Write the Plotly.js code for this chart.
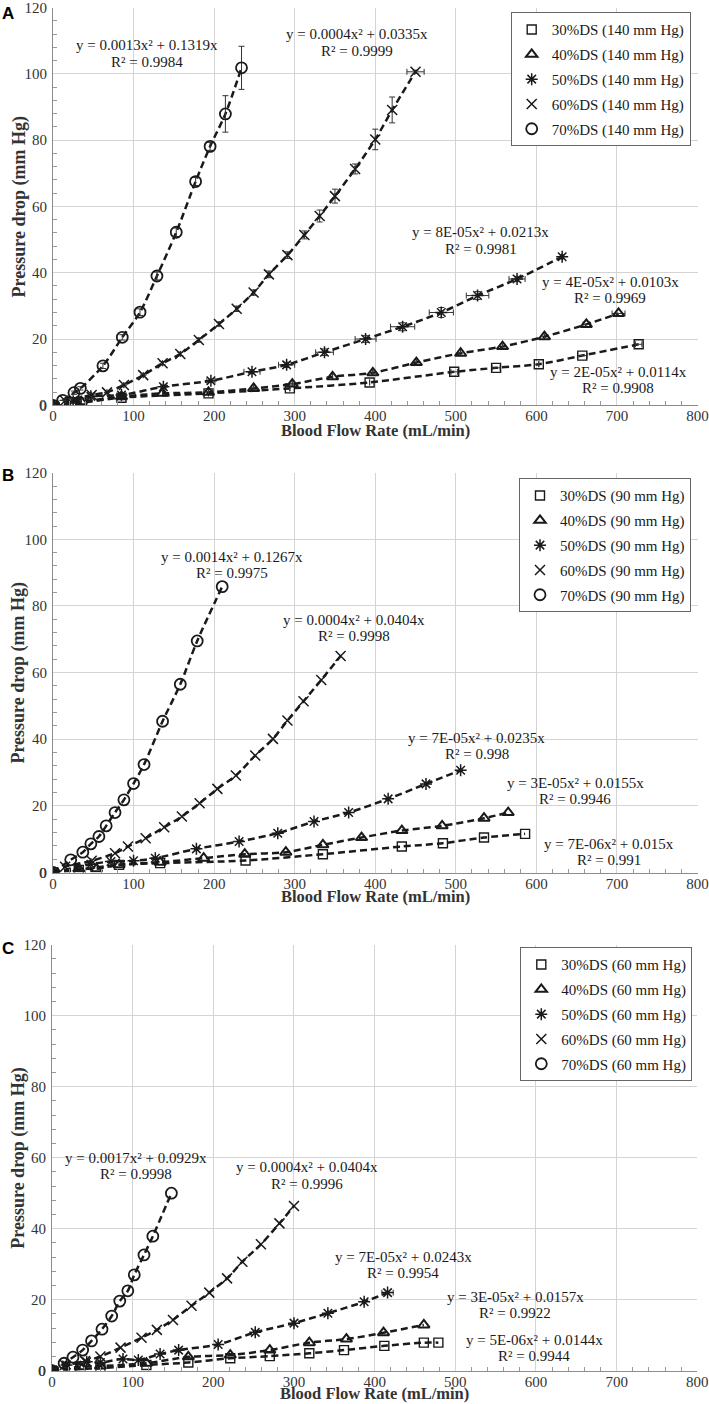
<!DOCTYPE html>
<html><head><meta charset="utf-8">
<script src="https://cdn.plot.ly/plotly-3.0.1.min.js"></script>
<style>html,body{margin:0;padding:0;background:#fff}#chart{width:709px;height:1404px}</style>
</head><body><div id="chart"></div>
<script>
// ---------- categories / labels ----------
const stenosis = ['30%DS','40%DS','50%DS','60%DS','70%DS'];
const pressures = ['140 mm Hg','90 mm Hg','60 mm Hg'];
const panelLetters = ['A','B','C'];
const xTitle = 'Blood Flow Rate (mL/min)';
const yTitle = 'Pressure drop (mm Hg)';

// ---------- Panel A (140 mm Hg) ----------
const a30x = [0, 35, 85, 193, 294, 393, 498, 550, 603, 657, 727];
const a30y = [0, 0.8, 2.3, 3.6, 5.1, 6.9, 10.1, 11.3, 12.4, 15.0, 18.4];
const a30ex = [0, 0, 0, 0, 0, 0, 4, 5, 0, 6, 4];
const a40x = [0, 35, 85, 136, 193, 249, 297, 347, 397, 451, 506, 558, 610, 662, 702];
const a40y = [0, 1.1, 2.6, 3.6, 3.9, 5.1, 6.4, 8.6, 9.8, 12.9, 15.7, 17.7, 20.7, 24.4, 27.7];
const a40ex = [0, 0, 0, 0, 0, 0, 0, 0, 0, 0, 0, 0, 0, 4, 8];
const a50x = [0, 25, 47, 85, 137, 196, 247, 290, 337, 388, 434, 482, 527, 576, 632];
const a50y = [0, 1.2, 2.7, 3.1, 5.6, 7.4, 10.1, 12.2, 16.0, 20.0, 23.7, 28.0, 33.1, 38.1, 44.8];
const a50ex = [0, 0, 0, 0, 3, 5, 10, 10, 11, 13, 15, 15, 14, 10, 0];
const a50ey = [0, 0, 0, 0, 0.5, 0.5, 0.6, 0.8, 1.0, 1.0, 1.2, 1.5, 1.2, 0.8, 0.6];
const a60x = [0, 15, 48, 67, 88, 112, 136, 158, 181, 206, 228, 249, 268, 291, 312, 331, 350, 375, 400, 421, 450];
const a60y = [0, 1.4, 3.1, 3.9, 6.1, 9.1, 12.7, 15.5, 19.7, 24.5, 29.1, 34.0, 39.5, 45.3, 51.4, 57.1, 63.1, 71.3, 80.2, 89.1, 100.6];
const a60ey = [0, 0, 0, 0, 0, 0, 0.5, 0.5, 0.6, 0.6, 0.8, 0.8, 1.0, 1.0, 1.2, 1.8, 2.1, 1.5, 3.1, 3.9, 0.5];
const a60ex = [0, 0, 0, 0, 0, 0, 0, 0, 0, 0, 0, 0, 0, 0, 0, 0, 0, 0, 0, 0, 10.7];
const a70x = [0, 12, 26, 34, 62, 86, 108, 129, 153, 177, 195, 214, 234];
const a70y = [0, 1.5, 3.8, 5.1, 11.9, 20.5, 28.1, 39.0, 52.2, 67.5, 78.1, 87.9, 101.8];
const a70ey = [0, 0, 0.5, 0.5, 0.8, 0.8, 1.0, 1.2, 1.3, 1.2, 1.2, 5.5, 6.5];
const aEq = ['y = 0.0013x² + 0.1319x', 'y = 0.0004x² + 0.0335x', 'y = 8E-05x² + 0.0213x', 'y = 4E-05x² + 0.0103x', 'y = 2E-05x² + 0.0114x'];
const aR2 = ['R² = 0.9984', 'R² = 0.9999', 'R² = 0.9981', 'R² = 0.9969', 'R² = 0.9908'];

// ---------- Panel B (90 mm Hg) ----------
const b30x = [0, 32, 82, 133, 239, 335, 433, 484, 535, 586];
const b30y = [0, 0.8, 2.3, 2.8, 3.6, 5.5, 7.8, 8.8, 10.5, 11.6];
const b40x = [0, 32, 54, 82, 133, 187, 238, 289, 335, 383, 433, 483, 535, 565];
const b40y = [0, 1.1, 1.1, 2.3, 3.1, 4.3, 5.5, 6.1, 8.3, 10.5, 12.6, 14.0, 16.3, 18.0];
const b50x = [0, 47, 72, 100, 127, 178, 231, 279, 324, 367, 416, 463, 506];
const b50y = [0, 2.5, 3.3, 3.5, 4.3, 7.1, 9.3, 11.8, 15.3, 18.0, 22.1, 26.6, 30.7];
const b60x = [0, 15, 48, 77, 93, 115, 138, 160, 182, 204, 227, 251, 273, 291, 311, 333, 357];
const b60y = [0, 1.7, 3.5, 5.8, 7.8, 10.3, 13.6, 16.8, 20.8, 25.1, 29.1, 35.1, 40.1, 45.6, 51.4, 57.8, 65.0];
const b70x = [0, 22, 37, 47, 57, 66, 77, 88, 100, 113, 136, 158, 179, 210];
const b70y = [0, 3.8, 6.1, 8.6, 10.8, 14.0, 18.0, 21.8, 26.7, 32.4, 45.4, 56.5, 69.5, 85.8];
const bEq = ['y = 0.0014x² + 0.1267x', 'y = 0.0004x² + 0.0404x', 'y = 7E-05x² + 0.0235x', 'y = 3E-05x² + 0.0155x', 'y = 7E-06x² + 0.015x'];
const bR2 = ['R² = 0.9975', 'R² = 0.9998', 'R² = 0.998', 'R² = 0.9946', 'R² = 0.991'];

// ---------- Panel C (60 mm Hg) ----------
const c30x = [0, 35, 60, 117, 169, 221, 270, 319, 362, 412, 461, 479];
const c30y = [0, 0.5, 0.7, 1.6, 2.3, 3.5, 4.1, 4.9, 5.8, 7.0, 7.9, 7.9];
const c40x = [0, 35, 60, 117, 169, 221, 270, 319, 365, 411, 461];
const c40y = [0, 1.1, 1.3, 2.1, 3.9, 4.4, 5.8, 7.9, 8.9, 10.7, 12.9];
const c50x = [0, 18, 43, 60, 88, 107, 134, 157, 206, 252, 300, 342, 387, 416];
const c50y = [0, 1.6, 2.5, 2.3, 3.3, 3.0, 4.7, 5.8, 7.4, 10.8, 13.4, 16.2, 19.4, 22.0];
const c50ex = [0, 0, 0, 0, 0, 0, 0, 0, 0, 0, 0, 0, 0, 7];
const c60x = [0, 16, 41, 60, 85, 111, 130, 150, 173, 195, 217, 236, 259, 282, 300];
const c60y = [0, 1.6, 2.7, 4.0, 6.5, 9.3, 11.5, 14.3, 18.3, 22.0, 26.0, 30.7, 35.6, 41.5, 46.4];
const c70x = [0, 15, 26, 38, 49, 62, 74, 84, 94, 102, 114, 125, 148];
const c70y = [0, 2.1, 3.8, 5.8, 8.4, 11.7, 15.4, 19.6, 22.5, 27.0, 32.6, 37.9, 50.0];
const cEq = ['y = 0.0017x² + 0.0929x', 'y = 0.0004x² + 0.0404x', 'y = 7E-05x² + 0.0243x', 'y = 3E-05x² + 0.0157x', 'y = 5E-06x² + 0.0144x'];
const cR2 = ['R² = 0.9998', 'R² = 0.9996', 'R² = 0.9954', 'R² = 0.9922', 'R² = 0.9944'];

// ---------- build ----------
const W = 709, H = 1404;
const PX = v => v / W, PY = v => 1 - v / H;
const SERIF = '"Liberation Serif", "Times New Roman", Times, serif';
const SANS = '"Liberation Sans", Arial, sans-serif';
const INK = '#1a1a1a';

const panels = [
  { xs:[a30x,a40x,a50x,a60x,a70x], ys:[a30y,a40y,a50y,a60y,a70y],
    ex:[a30ex,a40ex,a50ex,a60ex,null], ey:[null,null,a50ey,a60ey,a70ey],
    eq:aEq, r2:aR2,
    lab:[[146.7,45,62],[356.7,34,51],[481,232.5,249],[610,281.7,298],[618,371.7,387.5]],
    xd:[53,697.5], yd:[7.5,405.3], leg:[690.7,12.3], letterY:13, xTitleY:430 },
  { xs:[b30x,b40x,b50x,b60x,b70x], ys:[b30y,b40y,b50y,b60y,b70y],
    ex:[null,null,null,null,null], ey:[null,null,null,null,null],
    eq:bEq, r2:bR2,
    lab:[[231.7,556.7,573.3],[354,620,636],[476.7,738.3,754.3],[575.3,783.3,799.3],[608.7,844,860]],
    xd:[53,697.5], yd:[472.7,872.5], leg:[691,478.3], letterY:475, xTitleY:896 },
  { xs:[c30x,c40x,c50x,c60x,c70x], ys:[c30y,c40y,c50y,c60y,c70y],
    ex:[null,null,c50ex,null,null], ey:[null,null,null,null,null],
    eq:cEq, r2:cR2,
    lab:[[135.8,1158.3,1173.5],[307,1167.3,1184],[403,1256.7,1273.3],[515,1297.3,1313.3],[534,1340,1356]],
    xd:[52,697.3], yd:[944.7,1370.7], leg:[692.3,947.3], letterY:948, xTitleY:1393.5 }
];

const symbols = ['square-open','triangle-up-open','asterisk-open','x-thin-open','circle-open'];
const msizes = [9,10,10,10,11];
const mwidths = [1.4,2,1.5,1.5,1.8];

const traces = [];
const layout = {
  width: W, height: H, margin:{l:0,r:0,t:0,b:0},
  paper_bgcolor:'#fff', plot_bgcolor:'#fff',
  showlegend:true, annotations:[], font:{family:SERIF, color:INK}
};

panels.forEach((p, pi) => {
  const n = pi === 0 ? '' : String(pi + 1);
  const xa = 'x' + n, ya = 'y' + n;
  const legKey = pi === 0 ? 'legend' : 'legend' + (pi + 1);

  layout['xaxis' + n] = {
    domain:[PX(p.xd[0]), PX(p.xd[1])], anchor:ya, range:[0,800], dtick:100, tick0:0,
    showgrid:true, gridcolor:'#d4d4d4', gridwidth:1, zeroline:false,
    showline:true, linecolor:'#8c8c8c', linewidth:1, ticks:'',
    minor:{dtick:20, ticks:'inside', ticklen:4, tickcolor:'#999', showgrid:false},
    tickfont:{family:SERIF, size:15, color:'#333'}, ticklabelstandoff:-3, ticklabeloverflow:'allow', fixedrange:true
  };
  layout['yaxis' + n] = {
    domain:[PY(p.yd[1]), PY(p.yd[0])], anchor:xa, range:[0,120], dtick:20, tick0:0,
    showgrid:true, gridcolor:'#d4d4d4', gridwidth:1, zeroline:false,
    showline:true, linecolor:'#8c8c8c', linewidth:1, ticks:'',
    minor:{dtick:4, ticks:'inside', ticklen:4, tickcolor:'#999', showgrid:false},
    tickfont:{family:SERIF, size:15, color:'#333'}, ticklabelstandoff:2, ticklabeloverflow:'allow', fixedrange:true
  };
  layout[legKey] = {
    x:PX(p.leg[0]), y:PY(p.leg[1]), xanchor:'right', yanchor:'top',
    bgcolor:'#fff', bordercolor:'#666', borderwidth:1,
    font:{family:SERIF, size:15, color:INK}, tracegroupgap:2.3, itemwidth:30
  };

  for (let s = 0; s < 5; s++) {
    traces.push({
      type:'scatter', mode:'lines', x:p.xs[s], y:p.ys[s], xaxis:xa, yaxis:ya,
      line:{color:INK, width:2.5, dash:'7px,4px', shape:'spline', smoothing:0.8},
      showlegend:false, hoverinfo:'skip'
    });
  }
  for (let s = 0; s < 5; s++) {
    const t = {
      type:'scatter', mode:'markers', x:p.xs[s], y:p.ys[s], xaxis:xa, yaxis:ya,
      name: stenosis[s] + ' (' + pressures[pi] + ')',
      legend: legKey, legendgroup: 'g' + pi + s,
      marker:{symbol:symbols[s], size:msizes[s], color:INK, line:{color:INK, width:mwidths[s]}}
    };
    if (p.ey[s]) t.error_y = {type:'data', array:p.ey[s], visible:true, color:'#333', thickness:1, width:3};
    if (p.ex[s]) t.error_x = {type:'data', array:p.ex[s], visible:true, color:'#333', thickness:1, width:3};
    traces.push(t);
  }

  p.lab.forEach((g, k) => {
    layout.annotations.push({xref:'paper', yref:'paper', x:PX(g[0]), y:PY(g[1]), xanchor:'center', yanchor:'middle',
      text:p.eq[k], showarrow:false, font:{family:SERIF, size:15, color:INK}});
    layout.annotations.push({xref:'paper', yref:'paper', x:PX(g[0]), y:PY(g[2]), xanchor:'center', yanchor:'middle',
      text:p.r2[k], showarrow:false, font:{family:SERIF, size:15, color:INK}});
  });

  // y-axis "0" label at the origin (as in the reference)
  layout.annotations.push({xref:'paper', yref:'paper', x:PX(p.xd[0] - 4), y:PY(p.yd[1]), xanchor:'right', yanchor:'middle',
    text:'0', showarrow:false, font:{family:SERIF, size:15, color:'#333'}});

  const cx = (p.xd[0] + p.xd[1]) / 2, cy = (p.yd[0] + p.yd[1]) / 2;
  layout.annotations.push({xref:'paper', yref:'paper', x:PX(cx), y:PY(p.xTitleY), xanchor:'center', yanchor:'middle',
    text:'<b>' + xTitle + '</b>', showarrow:false, font:{family:SERIF, size:16.5, color:'#333'}});
  layout.annotations.push({xref:'paper', yref:'paper', x:PX(19), y:PY(cy), xanchor:'center', yanchor:'middle',
    text:'<b>' + yTitle + '</b>', textangle:-90, showarrow:false, font:{family:SERIF, size:18, color:'#333'}});
  layout.annotations.push({xref:'paper', yref:'paper', x:PX(8), y:PY(p.letterY), xanchor:'center', yanchor:'middle',
    text:'<b>' + panelLetters[pi] + '</b>', showarrow:false, font:{family:SANS, size:17, color:'#000'}});
});

Plotly.newPlot('chart', traces, layout, {displayModeBar:false, staticPlot:true});
</script>
</body></html>
